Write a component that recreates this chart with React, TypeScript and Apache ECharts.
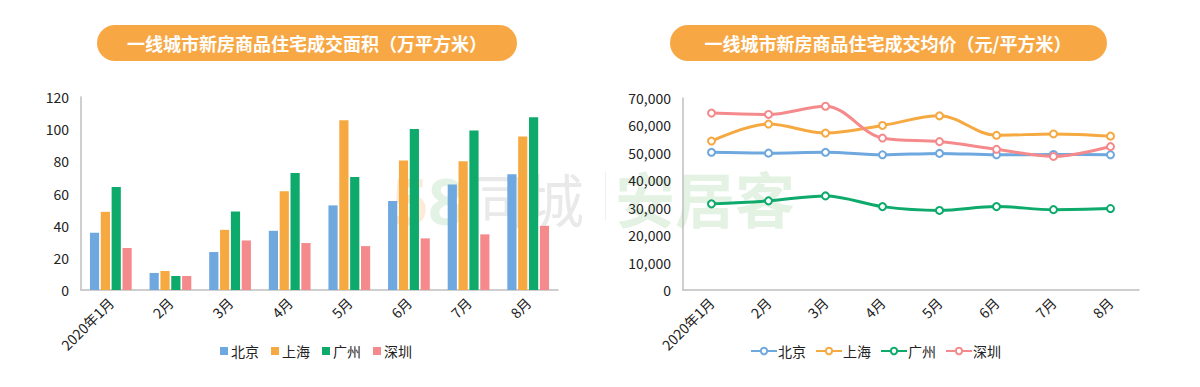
import React, { useEffect, useRef } from "react";
import * as echarts from "echarts";

const categories = ["2020年1月", "2月", "3月", "4月", "5月", "6月", "7月", "8月"];
const cities = ["北京", "上海", "广州", "深圳"];
const colors = ["#6FA8DF", "#F6A940", "#0DAA6C", "#F58A8C"];

// 成交面积（万平方米）
const areaBeijing = [35.6, 10.6, 23.6, 36.8, 52.6, 55.4, 65.6, 72.0];
const areaShanghai = [48.6, 11.8, 37.4, 61.4, 105.5, 80.5, 80.1, 95.4];
const areaGuangzhou = [64.1, 8.7, 48.8, 72.8, 70.3, 100.1, 99.1, 107.4];
const areaShenzhen = [26.1, 8.7, 30.8, 29.2, 27.3, 32.1, 34.6, 39.9];

// 成交均价（元/平方米）
const priceBeijing = [50200, 49900, 50200, 49300, 49800, 49300, 49400, 49300];
const priceShanghai = [54300, 60500, 57200, 60000, 63500, 56400, 56900, 56100];
const priceGuangzhou = [31400, 32500, 34300, 30400, 29000, 30400, 29300, 29700];
const priceShenzhen = [64500, 64000, 67000, 55400, 54100, 51300, 48700, 52300];

const titleArea = "一线城市新房商品住宅成交面积（万平方米）";
const titlePrice = "一线城市新房商品住宅成交均价（元/平方米）";

const areaData = [areaBeijing, areaShanghai, areaGuangzhou, areaShenzhen];
const priceData = [priceBeijing, priceShanghai, priceGuangzhou, priceShenzhen];

const FONT = "'Noto Sans CJK SC', 'Noto Sans', sans-serif";

function svgUrl(svg: string) {
  return "data:image/svg+xml;charset=utf-8," + encodeURIComponent(svg);
}

const watermark58 = svgUrl(
  "<svg xmlns='http://www.w3.org/2000/svg' width='220' height='80'>" +
    "<text x='0' y='64' font-family='Noto Sans' font-weight='bold' font-size='64' fill='rgba(245,150,60,0.2)'>5</text>" +
    "<text x='36' y='64' font-family='Noto Sans' font-weight='bold' font-size='64' fill='rgba(110,190,120,0.2)'>8</text>" +
    "<text x='76' y='62' font-family='Noto Sans CJK SC' font-size='58' fill='rgba(120,120,120,0.16)'>同城</text>" +
    "</svg>"
);
const watermarkAjk = svgUrl(
  "<svg xmlns='http://www.w3.org/2000/svg' width='200' height='80'>" +
    "<text x='0' y='62' font-family='Noto Sans CJK SC' font-weight='bold' font-size='60' fill='rgba(120,190,120,0.2)'>安居客</text>" +
    "</svg>"
);

export default function App() {
  const ref = useRef<HTMLDivElement>(null);
  useEffect(() => {
    if (!ref.current) return;
    const chart = echarts.init(ref.current, undefined, { renderer: "svg" });
    const axisLine = { show: true, lineStyle: { color: "#BFBFBF", width: 1.5 } };
    const xLabel = { rotate: 45, fontSize: 14, color: "#222", fontFamily: FONT, margin: 10, interval: 0 };
    const yLabel = { fontSize: 14, color: "#222", fontFamily: FONT, margin: 12 };
    const option: any = {
      animation: false,
      backgroundColor: "#FFFFFF",
      textStyle: { fontFamily: FONT },
      graphic: [
        { type: "image", x: 392, y: 161, z: 0, silent: true, style: { image: watermark58, width: 220, height: 80 } },
        { type: "rect", x: 605, y: 172, z: 0, silent: true, shape: { width: 1, height: 48 }, style: { fill: "rgba(150,150,150,0.15)" } },
        { type: "image", x: 615, y: 161, z: 0, silent: true, style: { image: watermarkAjk, width: 200, height: 80 } },
        { type: "rect", x: 97, y: 25, z: 10, shape: { x: 0, y: 0, width: 420, height: 36, r: 18 }, style: { fill: "#F7A845" } },
        { type: "text", x: 307, y: 43, z: 11, style: { text: titleArea, fill: "#FFFFFF", font: "bold 18px 'Noto Sans CJK SC'", align: "center", verticalAlign: "middle" } },
        { type: "rect", x: 670, y: 25, z: 10, shape: { x: 0, y: 0, width: 437, height: 36, r: 18 }, style: { fill: "#F7A845" } },
        { type: "text", x: 888, y: 43, z: 11, style: { text: titlePrice, fill: "#FFFFFF", font: "bold 18px 'Noto Sans CJK SC'", align: "center", verticalAlign: "middle" } },
      ],
      legend: [
        {
          data: cities.map((c) => ({ name: c })),
          left: 215, top: 339, icon: "rect", itemWidth: 8, itemHeight: 8, itemGap: 12,
          textStyle: { fontSize: 14, color: "#222", fontFamily: FONT, padding: [0, 0, 0, -2] },
        },
        {
          data: cities.map((c) => ({ name: c + " " })),
          left: 745, top: 339, itemWidth: 26, itemHeight: 8, itemGap: 9,
          textStyle: { fontSize: 14, color: "#222", fontFamily: FONT, padding: [0, 0, 0, -4] },
          formatter: (n: string) => n.trim(),
        },
      ],
      grid: [
        { left: 81, top: 97, width: 477, height: 193 },
        { left: 683, top: 98, width: 456, height: 192 },
      ],
      xAxis: [
        { type: "category", gridIndex: 0, data: categories, axisLine, axisTick: { show: false }, axisLabel: xLabel },
        { type: "category", gridIndex: 1, data: categories, axisLine, axisTick: { show: false }, axisLabel: xLabel },
      ],
      yAxis: [
        { type: "value", gridIndex: 0, min: 0, max: 120, interval: 20, axisLine, axisTick: { show: false }, splitLine: { show: false }, axisLabel: yLabel },
        {
          type: "value", gridIndex: 1, min: 0, max: 70000, interval: 10000, axisLine, axisTick: { show: false }, splitLine: { show: false },
          axisLabel: { ...yLabel, formatter: (v: number) => v.toLocaleString("en-US") },
        },
      ],
      series: [
        ...cities.map((c, i) => ({
          name: c, type: "bar", xAxisIndex: 0, yAxisIndex: 0, data: areaData[i],
          itemStyle: { color: colors[i] }, barGap: "18%", barCategoryGap: "30%",
        })),
        ...cities.map((c, i) => ({
          name: c + " ", type: "line", xAxisIndex: 1, yAxisIndex: 1, data: priceData[i], smooth: 0.35,
          symbol: "circle", symbolSize: 7, showSymbol: true,
          lineStyle: { color: colors[i], width: 3 },
          itemStyle: { color: "#FFFFFF", borderColor: colors[i], borderWidth: 2 },
          z: i === 3 ? 4 : 3,
        })),
      ],
    };
    chart.setOption(option);
    return () => chart.dispose();
  }, []);
  return <div ref={ref} style={{ position: "absolute", left: 0, top: 0, width: 1200, height: 387 }} />;
}
